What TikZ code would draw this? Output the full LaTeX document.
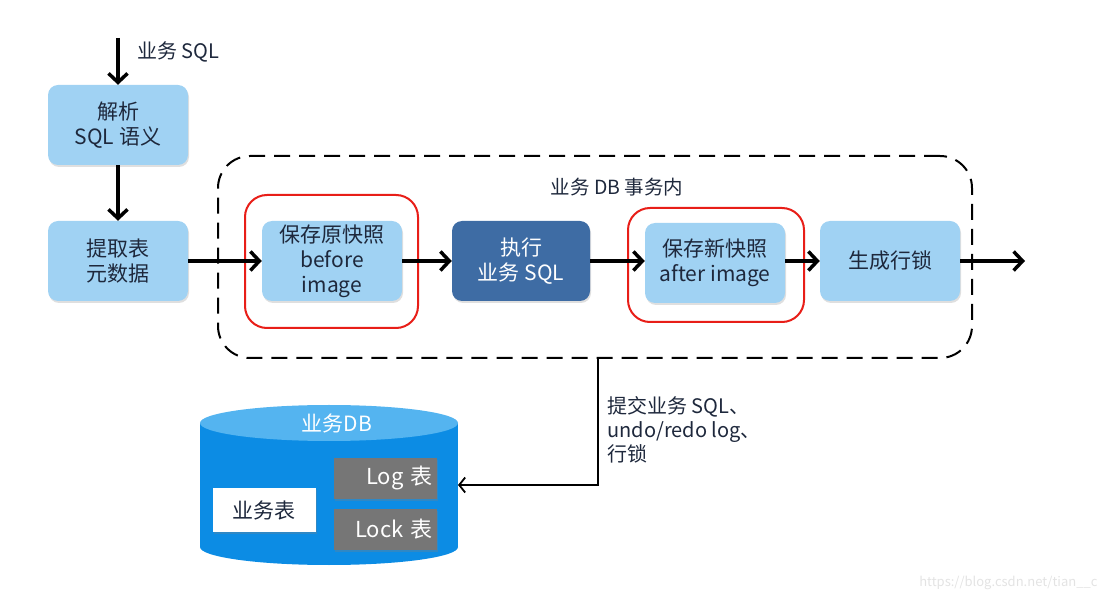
\documentclass[tikz,border=0pt]{standalone}
\usepackage{fontspec}
\setmainfont{Noto Sans CJK SC}
\usepackage{tikz}
\usetikzlibrary{positioning}
\usetikzlibrary{arrows.meta}
\usetikzlibrary{shadows}
\definecolor{boxblue}{RGB}{160,210,243}
\definecolor{darkbox}{RGB}{62,108,164}
\definecolor{navytext}{RGB}{30,40,60}
\definecolor{markred}{RGB}{232,30,24}
\definecolor{dbblue}{RGB}{12,140,228}
\definecolor{dbtop}{RGB}{84,180,240}
\definecolor{tblgray}{RGB}{118,118,118}

\begin{document}
\begin{tikzpicture}[x=1pt,y=-1pt]
        \tikzstyle{stepbox}=[rounded corners=10pt,fill=boxblue,text=navytext,
            minimum width=140pt,minimum height=80pt,align=center,inner sep=0pt,
            font=\fontsize{21}{25}\selectfont,
            drop shadow={opacity=.25,shadow xshift=1pt,shadow yshift=-2pt}]
        \tikzstyle{redmark}=[draw=markred,line width=2pt,rounded corners=22pt]
        \tikzstyle{flow}=[line width=3.5pt,-{Straight Barb[length=9pt,width=19pt]}]
        \tikzstyle{tbl}=[fill=tblgray,text=white,minimum width=103pt,minimum height=41pt,
            text width=95pt,inner sep=4pt,align=right,font=\fontsize{22}{24}\selectfont,
            drop shadow={opacity=.3,shadow xshift=1pt,shadow yshift=-2pt}]
            \useasboundingbox (0,0) rectangle (1109,601);

            % transaction frame
            \node[draw,line width=2pt,dash pattern=on 16pt off 9pt,rounded corners=32pt,
                minimum width=754pt,minimum height=202pt] (txn) at (595,257) {};
            \node[font=\fontsize{19.5}{22}\selectfont,text=navytext] (txnlabel) at (617,187) {业务 DB 事务内};

            \node[redmark,minimum width=173pt,minimum height=133pt] (redbefore) at (331.5,261.5) {};
            \node[redmark,minimum width=176pt,minimum height=114pt] (redafter) at (716,265) {};

            \node[stepbox] (parse) at (118,125) {解析\\SQL 语义};
            \node[stepbox] (meta) at (118,261) {提取表\\元数据};
            \node[stepbox] (before) at (332,261) {保存原快照\\before\\image};
            \node[stepbox,fill=darkbox,text=white,minimum width=138pt] (exec) at (521,261) {执行\\业务 SQL};
            \node[stepbox] (after) at (715,263) {保存新快照\\after image};
            \node[stepbox] (rowlock) at (890,261) {生成行锁};

            \coordinate (src) at (118,38);
            \coordinate (out) at (1025,261);
            \node[anchor=west,font=\fontsize{20}{22}\selectfont,text=navytext] (srclabel) at (134,52) {业务 SQL};

            \draw[flow] (src) -- (parse);
            \draw[flow] (parse) -- (meta);
            \draw[flow] (meta) -- (before);
            \draw[flow] (before) -- (exec);
            \draw[flow] (exec.east) -- (exec.east -| after.west);
            \draw[flow] (after.east |- rowlock.west) -- (rowlock.west);
            \draw[flow] (rowlock) -- (out);

            % database cylinder
            \fill[dbblue] (200,423) rectangle (458,547);
            \fill[dbblue] (329,547) ellipse [x radius=129,y radius=18];
            \fill[dbtop] (329,423) ellipse [x radius=129,y radius=18];
            \node[text=white,font=\fontsize{21}{22}\selectfont] (dbname) at (337,423) {业务DB};

            \node[fill=white,text=navytext,minimum width=103pt,minimum height=43pt,
                font=\fontsize{21}{24}\selectfont,
                drop shadow={opacity=.3,shadow xshift=1pt,shadow yshift=-2pt}] (biz) at (264,510) {业务表};
            \node[tbl] (logtbl) at (385.5,478.5) {Log 表};
            \node[tbl] (locktbl) at (385.5,529.5) {Lock 表};

            \coordinate (commit) at (598,358);
            \coordinate (dbedge) at (458,485);
            \draw[line width=1.8pt,-{Straight Barb[length=6pt,width=15pt]}] (commit) |- (dbedge);
            \node[anchor=north west,align=left,text=navytext,
                font=\fontsize{20}{24}\selectfont] (commitlabel) at (604,393)
                {提交业务 SQL、\\undo/redo log、\\行锁};

            \node[anchor=east,text=gray!22,font=\fontsize{13}{15}\selectfont] (mark) at (1101,583)
                {https://blog.csdn.net/tian\_\_c};
        \end{tikzpicture}
\end{document}
